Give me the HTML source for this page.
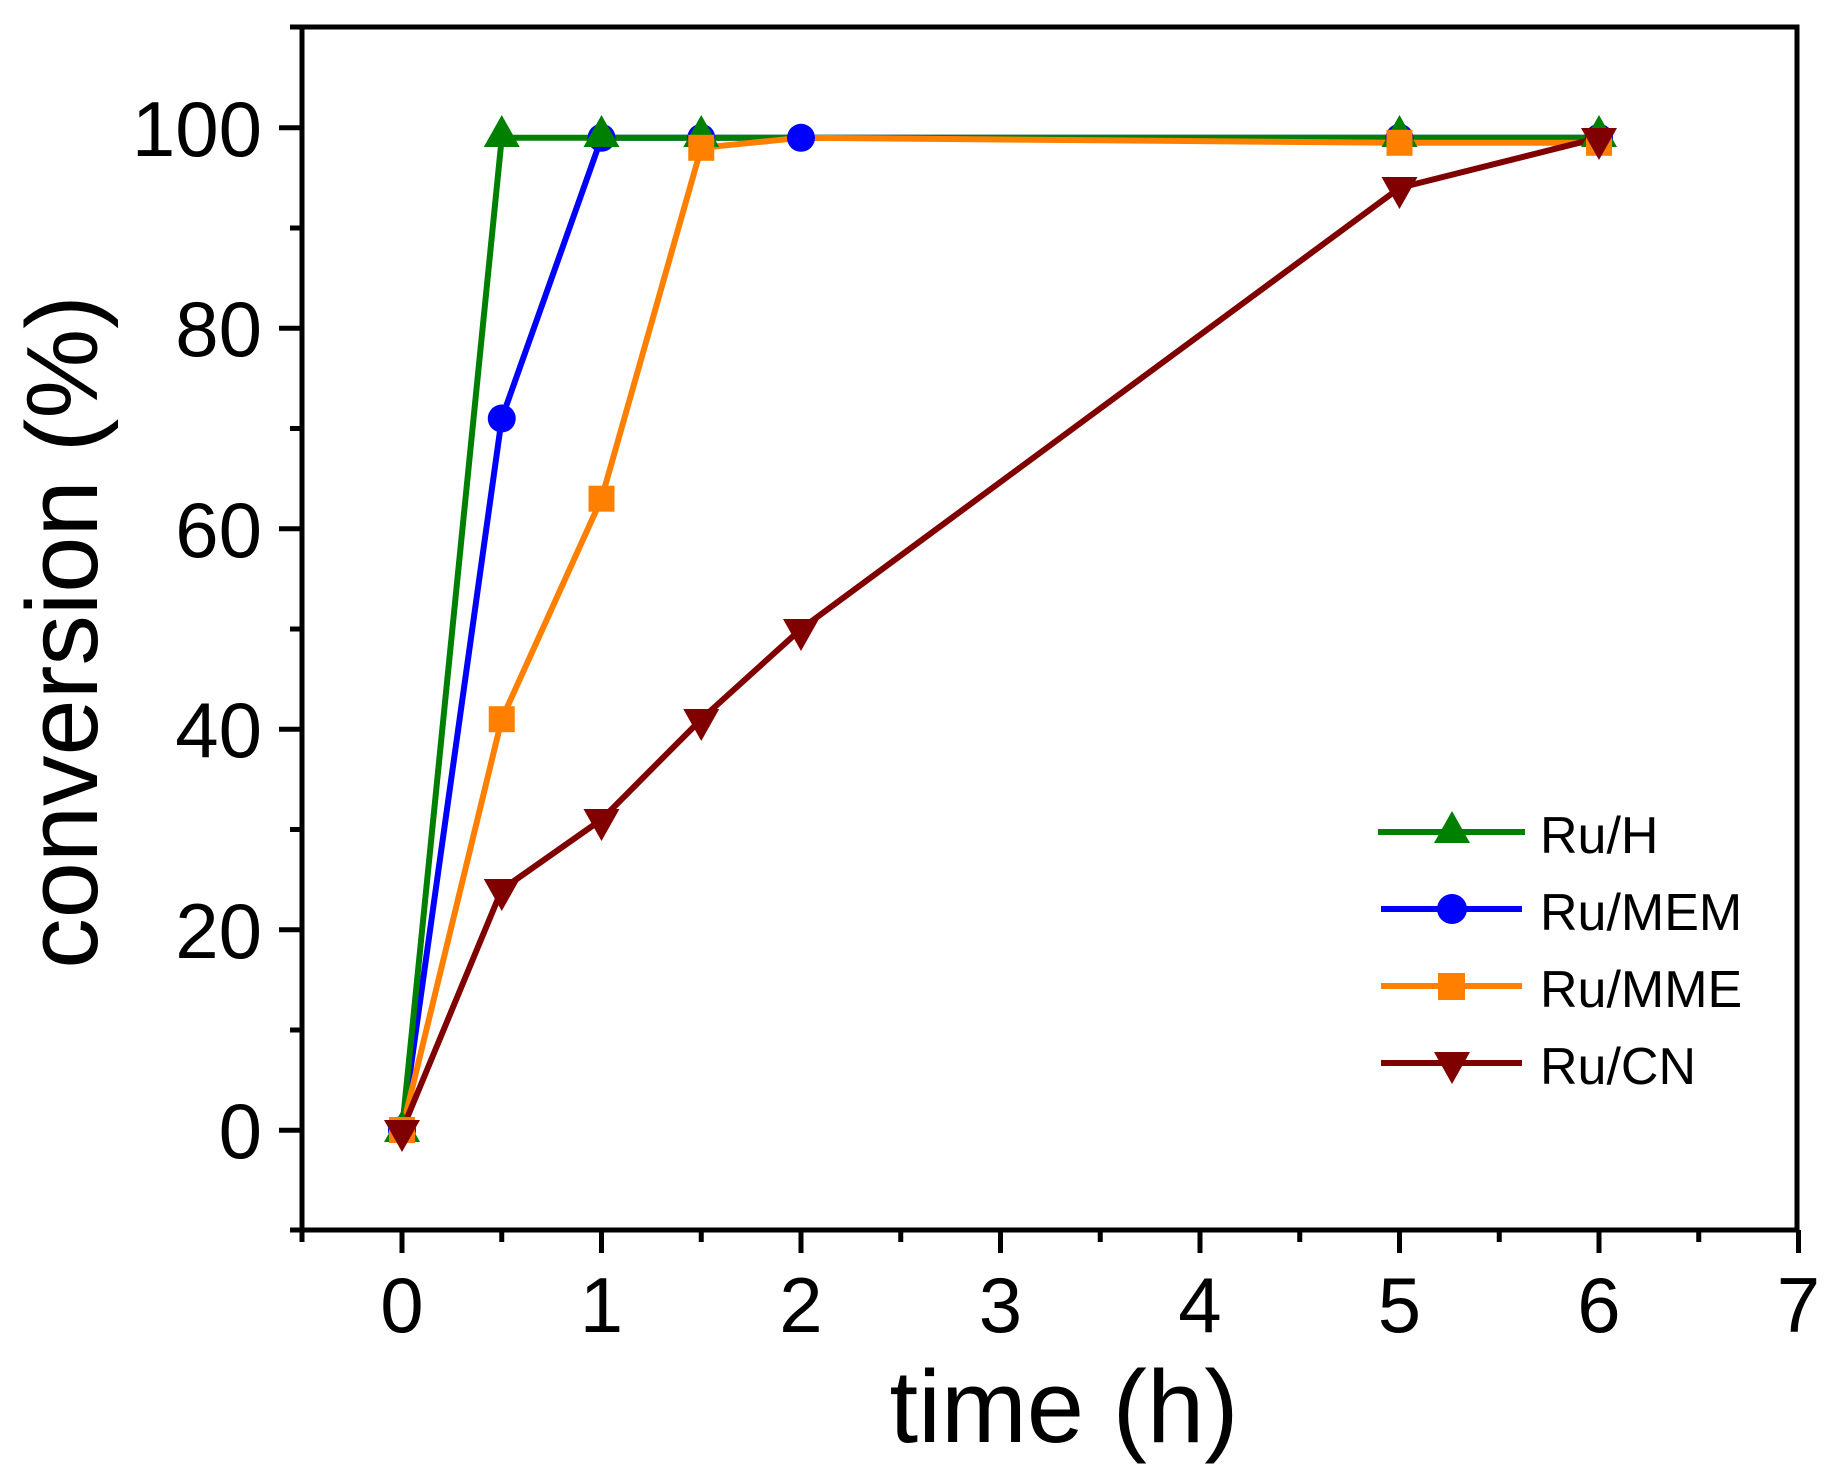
<!DOCTYPE html>
<html><head><meta charset="utf-8"><style>body{margin:0;background:#fff}svg{display:block}</style></head><body>
<svg width="1834" height="1474" xmlns="http://www.w3.org/2000/svg" font-family="Liberation Sans, Arial, sans-serif">
<defs>
<path id="tu" d="M0,-20 L18,12 L-18,12 Z"/>
<path id="td" d="M0,20 L18,-12 L-18,-12 Z"/>
</defs>
<g stroke="#000" stroke-width="5">
<rect x="302" y="27" width="1495" height="1203" fill="none"/>
<path d="M402,1230v23M601.5,1230v23M801,1230v23M1000.5,1230v23M1200,1230v23M1399.5,1230v23M1599,1230v23M1798.5,1230v23
M302,1230v12M501.75,1230v12M701.25,1230v12M900.75,1230v12M1100.25,1230v12M1299.75,1230v12M1499.25,1230v12M1698.75,1230v12"/>
<path d="M302,1130.25h-23M302,929.75h-23M302,729.25h-23M302,528.75h-23M302,328.25h-23M302,127.75h-23
M302,1230h-12M302,1030h-12M302,829.5h-12M302,629h-12M302,428.5h-12M302,228h-12M302,27h-12"/>
</g>
<g font-size="78" text-anchor="middle" fill="#000">
<text x="402" y="1332">0</text><text x="601.5" y="1332">1</text><text x="801" y="1332">2</text><text x="1000.5" y="1332">3</text><text x="1200" y="1332">4</text><text x="1399.5" y="1332">5</text><text x="1599" y="1332">6</text><text x="1798.5" y="1332">7</text>
</g>
<g font-size="78" text-anchor="end" fill="#000">
<text x="262" y="1158">0</text><text x="262" y="958">20</text><text x="262" y="757">40</text><text x="262" y="557">60</text><text x="262" y="356">80</text><text x="262" y="156">100</text>
</g>
<text x="1064" y="1442" font-size="103" text-anchor="middle">time (h)</text>
<text transform="translate(97,632) rotate(-90)" font-size="101" text-anchor="middle">conversion (%)</text>
<g fill="none" stroke-width="6" stroke-linejoin="round">
<polyline stroke="#0000ff" points="402,1130.25 501.75,418.5 601.5,137.8 701.25,137.8 801,137.8 1399.5,137.8 1599,137.8"/>
<polyline stroke="#008000" points="402,1130.25 501.75,137.8 601.5,137.8 701.25,137.8 801,137.8 1399.5,137.8 1599,137.8"/>
<polyline stroke="#ff8000" points="402,1130.25 501.75,719.2 601.5,498.7 701.25,147.8 801,137.8 1399.5,142.8 1599,142.8"/>
<polyline stroke="#800000" points="402,1130.25 501.75,889.6 601.5,819.5 701.25,719.2 801,629 1399.5,187.9 1599,137.8"/>
</g>
<g fill="#0000ff"><circle cx="402" cy="1130" r="14"/><circle cx="501.75" cy="418.5" r="14"/><circle cx="601.5" cy="137.8" r="14"/><circle cx="701.25" cy="137.8" r="14"/><circle cx="1399.5" cy="137.8" r="14"/><circle cx="1599" cy="137.8" r="14"/></g>
<g fill="#008000"><use href="#tu" x="402" y="1130"/><use href="#tu" x="501.75" y="135"/><use href="#tu" x="601.5" y="135"/><use href="#tu" x="701.25" y="135"/><use href="#tu" x="1399.5" y="135"/><use href="#tu" x="1599" y="135"/></g>
<circle cx="801" cy="137.8" r="14" fill="#0000ff"/>
<g fill="#ff8000"><rect x="389" y="1117" width="26" height="26"/><rect x="488.75" y="706.2" width="26" height="26"/><rect x="588.5" y="485.7" width="26" height="26"/><rect x="688.25" y="134.8" width="26" height="26"/><rect x="1386.5" y="129.8" width="26" height="26"/><rect x="1586" y="129.8" width="26" height="26"/></g>
<g fill="#800000"><use href="#td" x="402" y="1132"/><use href="#td" x="501.75" y="891"/><use href="#td" x="601.5" y="821"/><use href="#td" x="701.25" y="721"/><use href="#td" x="801" y="631"/><use href="#td" x="1399.5" y="189"/><use href="#td" x="1599" y="140"/></g>
<g stroke-width="6">
<line x1="1378" y1="832" x2="1525" y2="832" stroke="#008000"/>
<line x1="1381" y1="909" x2="1522" y2="909" stroke="#0000ff"/>
<line x1="1381" y1="986" x2="1522" y2="986" stroke="#ff8000"/>
<line x1="1381" y1="1063" x2="1522" y2="1063" stroke="#800000"/>
</g>
<use href="#tu" x="1452" y="831" fill="#008000"/>
<circle cx="1452" cy="909" r="15" fill="#0000ff"/>
<rect x="1438" y="973" width="27" height="27" fill="#ff8000"/>
<use href="#td" x="1452" y="1064" fill="#800000"/>
<g font-size="52" fill="#000">
<text x="1540" y="853">Ru/H</text><text x="1540" y="930">Ru/MEM</text><text x="1540" y="1007">Ru/MME</text><text x="1540" y="1084">Ru/CN</text>
</g>
</svg>
</body></html>
